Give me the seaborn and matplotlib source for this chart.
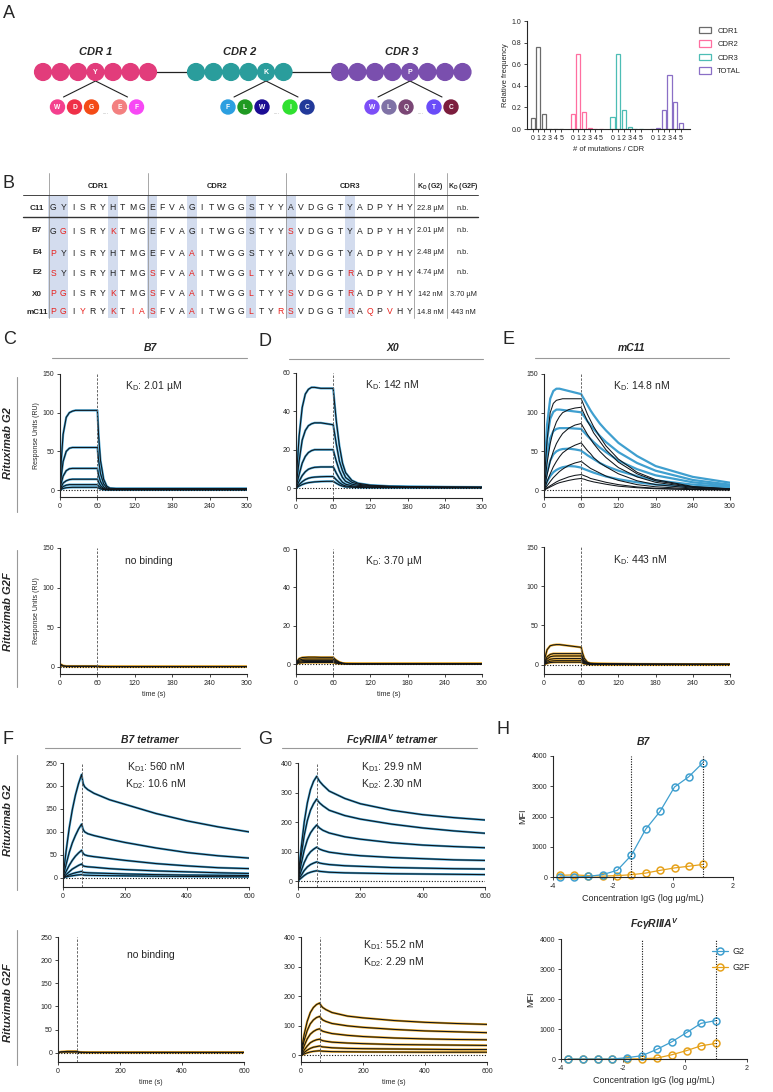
import matplotlib
matplotlib.use("Agg")
import matplotlib.pyplot as plt
from matplotlib.patches import Circle, Rectangle, Patch
from matplotlib.lines import Line2D
import pandas as pd
import seaborn as sns

sns.set_theme(style="ticks")
plt.rcParams['font.family'] = ['Liberation Sans', 'DejaVu Sans']
plt.rcParams['mathtext.fontset'] = 'custom'
plt.rcParams['mathtext.rm'] = 'Liberation Sans'
plt.rcParams['mathtext.it'] = 'Liberation Sans:italic'
plt.rcParams['mathtext.bf'] = 'Liberation Sans:bold'
plt.rcParams['axes.linewidth'] = 0.8
plt.rcParams['axes.unicode_minus'] = False

# ---------------- data ----------------
# panel A: mutation histogram
MUT_COUNTS = [0, 1, 2, 3, 4, 5]
HIST_NAMES = ["CDR1", "CDR2", "CDR3", "TOTAL"]
HIST_CDR1 = [0.10, 0.76, 0.14, 0, 0, 0]
HIST_CDR2 = [0.14, 0.69, 0.16, 0.01, 0, 0]
HIST_CDR3 = [0.11, 0.69, 0.18, 0.015, 0, 0]
HIST_TOTAL = [0, 0.005, 0.18, 0.50, 0.25, 0.06]
HIST_COLORS = ["#6b6b6b", "#ff6ea0", "#4dbdb5", "#8a6fc6"]

# panel A: CDR diagram
CDR_LABELS = ["CDR 1", "CDR 2", "CDR 3"]
CDR_SIZES = [7, 6, 8]
CDR_MUT_IDX = [3, 4, 4]
CDR_MUT_AA = ["Y", "K", "P"]
CDR_COLORS = ["#e23c7b", "#2a9d9c", "#7a4fae"]
SUB_AA = [["W", "D", "G", "E", "F"], ["F", "L", "W", "I", "C"], ["W", "L", "Q", "T", "C"]]
SUB_COLORS = [["#f43f8e", "#ef3048", "#f44b16", "#f38080", "#f748f5"],
              ["#2c9fe0", "#1f9a22", "#1b0c94", "#2fe02f", "#22399a"],
              ["#7c4ef7", "#7f72a6", "#7a4675", "#6a4cf8", "#7b1d3d"]]

# panel B: sequence table
ROW_NAMES = ["C11", "B7", "E4", "E2", "X0", "mC11"]
SEQS = ["GYISRYHTMG" "EFVAGITWGGSTYY" "AVDGGTYADPYHY",
        "GGISRYKTMG" "EFVAGITWGGSTYY" "SVDGGTYADPYHY",
        "PYISRYHTMG" "EFVAAITWGGSTYY" "AVDGGTYADPYHY",
        "SYISRYHTMG" "SFVAAITWGGLTYY" "AVDGGTRADPYHY",
        "PGISRYKTMG" "SFVAAITWGGLTYY" "SVDGGTRADPYHY",
        "PGIYRYKTIA" "SFVAAITWGGLTYR" "SVDGGTRAQPVHY"]
KD_G2 = ["22.8 µM", "2.01 µM", "2.48 µM", "4.74 µM", "142 nM", "14.8 nM"]
KD_G2F = ["n.b.", "n.b.", "n.b.", "n.b.", "3.70 µM", "443 nM"]
SHADED_COLS = [0, 1, 6, 10, 14, 20, 24, 30]

# panels C-E: SPR sensorgrams, 300 s
T300 = [0, 2, 5, 10, 15, 20, 25, 30, 40, 50, 60, 62, 65, 70, 75, 80, 90, 100, 120, 150, 180, 240, 300]
XT300 = [0, 60, 120, 180, 240, 300]
C_G2 = [
    [0, 38, 72, 94, 100, 102, 103, 103, 103, 103, 103, 70, 38, 14, 5, 2.5, 2, 2, 2, 2, 2, 2, 2],
    [0, 18, 37, 50, 54, 55, 55, 55, 55, 55, 55, 38, 21, 8, 3, 1.5, 1.5, 1.5, 1.5, 1.5, 1.5, 1.5, 1.5],
    [0, 9, 18, 25, 27.5, 28, 28, 28, 28, 28, 28, 19, 11, 4, 1.5, 1, 1, 1, 1, 1, 1, 1, 1],
    [0, 4, 9, 12, 13.5, 14, 14, 14, 14, 14, 14, 10, 5.5, 2, 1, 0.8, 0.8, 0.8, 0.8, 0.8, 0.8, 0.8, 0.8],
    [0, 2, 4.5, 6.3, 7, 7, 7, 7, 7, 7, 7, 5, 3, 1.2, 0.6, 0.5, 0.5, 0.5, 0.5, 0.5, 0.5, 0.5, 0.5],
    [0, 1, 2, 3, 3.3, 3.5, 3.5, 3.5, 3.5, 3.5, 3.5, 2.5, 1.5, 0.6, 0.3, 0.2, 0.2, 0.2, 0.2, 0.2, 0.2, 0.2, 0.2],
]
D_G2 = [
    [0, 12, 27, 42, 49, 51.5, 52.5, 52.5, 52, 52, 52, 45, 35, 22, 13, 8, 4, 2.5, 1.5, 1, 0.8, 0.6, 0.5],
    [0, 6, 14, 25, 30, 32.5, 33.5, 34, 34, 33.5, 33, 29, 23, 14, 9, 5.5, 3, 2, 1.2, 0.8, 0.6, 0.5, 0.4],
    [0, 3, 7, 13, 16.5, 18.5, 19.5, 20, 20, 20, 20, 17.5, 14, 9, 5.5, 3.5, 2, 1.4, 1, 0.7, 0.5, 0.4, 0.3],
    [0, 1.5, 3.5, 6.5, 8.5, 9.8, 10.4, 10.8, 11, 11, 11, 9.8, 7.8, 5, 3, 2, 1.2, 0.8, 0.6, 0.5, 0.4, 0.3, 0.3],
    [0, 0.8, 1.8, 3.3, 4.4, 5.1, 5.5, 5.7, 5.9, 6, 6, 5.3, 4.3, 2.8, 1.7, 1.1, 0.7, 0.5, 0.4, 0.3, 0.3, 0.2, 0.2],
    [0, 0.4, 1, 1.8, 2.4, 2.8, 3, 3.2, 3.4, 3.5, 3.5, 3.1, 2.5, 1.6, 1, 0.6, 0.4, 0.3, 0.2, 0.2, 0.2, 0.1, 0.1],
]
E_G2 = [
    [0, 40, 85, 118, 128, 131, 131, 130, 128, 126, 124, 121, 117, 110, 103, 97, 86, 77, 61, 44, 31, 17, 9.5],
    [0, 30, 65, 92, 101, 104, 104, 103.5, 102.5, 101.5, 100.5, 98, 95, 89, 84, 79, 70, 62, 49, 35, 25, 13, 7],
    [0, 20, 44, 67, 76, 79, 80, 80, 80, 79.5, 79, 77, 74.5, 70, 66, 62, 55, 49, 38, 27, 19, 10, 5.5],
    [0, 10, 23, 38, 46, 50, 52, 53, 53.5, 52.5, 51, 49.5, 48, 45, 42.5, 40, 35, 31, 25, 18, 12.5, 7, 4],
    [0, 5, 11, 18, 23, 26, 28, 29.5, 31, 30.5, 29, 28, 27, 25.5, 24, 22.5, 20, 17.5, 14, 10, 7, 4, 2.5],
]
E_G2_FIT = [
    [0, 30, 65, 100, 112, 116, 117, 118, 118, 118, 118, 114, 108, 98, 90, 82, 69, 57, 40, 23, 13.5, 4.6, 1.6],
    [0, 15, 35, 60, 77, 88, 95, 100, 104, 106, 107, 103, 98, 89, 82, 74, 63, 52, 36, 21, 12, 4, 1.4],
    [0, 8, 20, 37, 50, 60, 67, 73, 80, 84, 86, 83, 79, 72, 66, 60, 50, 42, 29, 17, 10, 3.3, 1.2],
    [0, 4, 11, 21, 30, 37, 43, 48, 54, 58, 61, 59, 56, 51, 47, 42, 35, 30, 21, 12, 7, 2.4, 0.8],
    [0, 2, 5.5, 11, 16, 20, 24, 27, 32, 35, 37, 36, 34, 31, 28, 26, 22, 18, 12.5, 7, 4.2, 1.5, 0.5],
    [0, 1, 3, 5.5, 8, 10.5, 12.5, 14, 17, 19, 20, 19.5, 18.5, 17, 15, 14, 12, 10, 7, 4, 2.3, 0.8, 0.3],
    [0, 0.8, 2, 4, 6, 8, 9.5, 10.5, 12.5, 14, 15, 14.5, 14, 12.5, 11.5, 10.5, 9, 7.5, 5, 3, 1.7, 0.6, 0.2],
]
C_G2F = [
    [0, 3, 1.5, 1, 1, 1, 1, 1, 1, 1, 1, 0.8, 0.6, 0.5, 0.5, 0.5, 0.5, 0.5, 0.5, 0.5, 0.5, 0.5, 0.5],
    [0, 1.5, 1, 0.5, 0.5, 0.5, 0.5, 0.5, 0.5, 0.5, 0.5, 0.3, 0.2, 0.2, 0.2, 0.2, 0.2, 0.2, 0.2, 0.2, 0.2, 0.2, 0.2],
]
D_G2F = [
    [0, 1.5, 2.8, 3.4, 3.5, 3.6, 3.6, 3.6, 3.5, 3.5, 3.5, 2.8, 2, 1, 0.5, 0.3, 0.2, 0.1, 0.1, 0.1, 0.1, 0.1, 0.1],
    [0, 1.1, 2, 2.5, 2.6, 2.6, 2.6, 2.6, 2.6, 2.6, 2.6, 2.1, 1.5, 0.8, 0.4, 0.2, 0.1, 0.1, 0.1, 0.1, 0.1, 0.1, 0.1],
    [0, 0.8, 1.4, 1.8, 1.9, 1.9, 1.9, 1.9, 1.9, 1.9, 1.9, 1.5, 1.1, 0.6, 0.3, 0.2, 0.1, 0.1, 0.1, 0.1, 0.1, 0.1, 0.1],
    [0, 0.5, 0.9, 1.2, 1.3, 1.3, 1.3, 1.3, 1.3, 1.3, 1.3, 1, 0.7, 0.4, 0.2, 0.1, 0.1, 0.1, 0.1, 0.1, 0.1, 0.1, 0.1],
    [0, 0.3, 0.5, 0.7, 0.8, 0.8, 0.8, 0.8, 0.8, 0.8, 0.8, 0.6, 0.4, 0.2, 0.1, 0.1, 0.1, 0.1, 0.1, 0.1, 0.1, 0.1, 0.1],
]
E_G2F = [
    [0, 10, 19, 24, 25, 25.5, 25.5, 25, 24, 23, 22, 15, 8, 3, 1.8, 1.5, 1.3, 1.2, 1, 0.8, 0.7, 0.6, 0.5],
    [0, 5, 10, 13, 14, 14, 14, 14, 14, 14, 14, 9.5, 5, 2, 1.2, 1, 0.9, 0.8, 0.7, 0.6, 0.5, 0.4, 0.4],
    [0, 3.5, 7, 10, 10.8, 11, 11, 11, 11, 11, 11, 7.5, 4, 1.6, 1, 0.8, 0.7, 0.6, 0.5, 0.5, 0.4, 0.3, 0.3],
    [0, 2.2, 4.5, 6.8, 7.5, 7.7, 7.7, 7.7, 7.7, 7.7, 7.7, 5.2, 2.8, 1.1, 0.7, 0.6, 0.5, 0.4, 0.4, 0.3, 0.3, 0.2, 0.2],
    [0, 1.3, 2.8, 4.3, 4.8, 5, 5, 5, 5, 5, 5, 3.4, 1.8, 0.8, 0.5, 0.4, 0.3, 0.3, 0.2, 0.2, 0.2, 0.2, 0.2],
    [0, 0.7, 1.6, 2.6, 2.9, 3, 3, 3, 3, 3, 3, 2, 1.1, 0.5, 0.3, 0.2, 0.2, 0.2, 0.1, 0.1, 0.1, 0.1, 0.1],
]

# panels F-G: tetramer sensorgrams, 600 s
T600 = [0, 5, 10, 20, 30, 40, 50, 60, 65, 70, 80, 100, 150, 200, 300, 400, 500, 600]
XT600 = [0, 200, 400, 600]
F_G2 = [
    [0, 30, 58, 108, 148, 180, 205, 225, 205, 198, 192, 184, 170, 160, 140, 124, 111, 100],
    [0, 15, 29, 55, 76, 92, 106, 117, 105, 100, 96, 92, 84, 77, 65, 55, 48, 43],
    [0, 7, 14, 27, 38, 47, 54, 60, 53, 50, 48, 46, 42, 38, 31, 26, 22, 20],
    [0, 3.5, 7, 13, 19, 23, 27, 30, 26, 25, 24, 23, 20, 18, 15, 13, 11, 9.5],
    [0, 1.7, 3.3, 6.5, 9, 11, 12.5, 14, 12, 11.5, 11, 10.5, 9.5, 8.5, 7, 6, 5.5, 5],
    [0, 1, 2, 3.5, 4.5, 5.5, 6.3, 7, 6, 5.7, 5.5, 5.2, 4.7, 4.3, 3.5, 3, 2.5, 2.2],
]
F_G2F = [
    [0, 1.5, 2, 2.5, 3, 3, 3, 3, 2, 1.5, 1.2, 1, 1, 1, 1, 1, 1, 1],
    [0, 1, 1.5, 1.5, 1.5, 1.5, 1.5, 1.5, 1, 0.8, 0.6, 0.5, 0.5, 0.5, 0.5, 0.5, 0.5, 0.5],
]
G_G2 = [
    [0, 60, 110, 200, 265, 310, 338, 355, 345, 337, 325, 305, 280, 262, 240, 225, 215, 207],
    [0, 45, 85, 155, 205, 240, 262, 278, 270, 264, 255, 240, 222, 210, 193, 180, 170, 162],
    [0, 30, 57, 105, 140, 163, 178, 190, 184, 179, 172, 163, 150, 142, 130, 122, 117, 113],
    [0, 18, 34, 63, 85, 99, 108, 115, 111, 108, 104, 98, 91, 86, 80, 76, 72, 70],
    [0, 10, 19, 36, 48, 56, 61, 65, 63, 61, 59, 56, 52, 50, 46, 44, 42, 41],
    [0, 5.5, 10, 19, 26, 30, 33, 35, 34, 33, 32, 30, 28, 27, 25, 24, 23, 22],
]
G_G2F = [
    [0, 40, 70, 115, 145, 162, 172, 177, 168, 162, 155, 145, 133, 127, 118, 112, 108, 105],
    [0, 28, 50, 84, 107, 120, 128, 132, 125, 120, 115, 108, 100, 95, 88, 83, 80, 77],
    [0, 17, 32, 56, 72, 81, 87, 90, 85, 82, 79, 74, 68, 64, 59, 56, 54, 53],
    [0, 9, 18, 32, 43, 49, 53, 55, 52, 50, 48, 45, 42, 40, 37, 36, 35, 34],
    [0, 5, 10, 18, 24, 28, 30, 32, 30, 29, 28, 26, 24, 23, 22, 21, 20, 20],
    [0, 2.5, 5, 9, 12, 14, 15, 16, 15, 14.5, 14, 13, 12.5, 12, 11.5, 11, 11, 11],
]

# panel H: cell binding (MFI)
LOG_CONC = [-3.77, -3.29, -2.82, -2.34, -1.86, -1.39, -0.91, -0.43, 0.05, 0.52, 1.0]
H_B7_G2 = [0, 0, 20, 80, 220, 715, 1580, 2170, 2975, 3310, 3780]
H_B7_G2F = [55, 70, 45, 30, 45, 75, 130, 220, 300, 355, 415]
H_FC_G2 = [0, 0, 0, 0, 45, 110, 320, 570, 880, 1190, 1280]
H_FC_G2F = [0, 0, 0, 0, 0, 10, 30, 140, 280, 440, 520]
H_VLINES = [-1.39, 1.0]

BLUE = "#3f9fcf"
ORANGE = "#e6a11a"
FIT = "#10151a"

# ---------------- figure ----------------
W, H = 773, 1092
fig = plt.figure(figsize=(W / 100, H / 100), dpi=100)


def box(l, t, r, b):
    return [l / W, 1 - b / H, (r - l) / W, (b - t) / H]


ov = fig.add_axes([0, 0, 1, 1])
ov.set_xlim(0, W)
ov.set_ylim(H, 0)
ov.axis("off")

# panel letters
for letter, (x, y) in zip("ABCDEFGH", [(3, 14), (3, 184), (3, 340), (259, 341), (503, 340),
                                       (3, 740), (258, 740), (496, 730)]):
    ov.text(x, y, letter, fontsize=13, va="center", ha="left")

# ---- A: CDR diagram ----
starts = [43, 196, 340]
step = 17.5
sub_off = [-38, -21, -4, 24, 41]
ov.plot([43, 462.5], [72, 72], color="#222", lw=0.9, zorder=1)
for k in range(3):
    xs = [starts[k] + i * step for i in range(CDR_SIZES[k])]
    for i, x in enumerate(xs):
        ov.add_patch(Circle((x, 72), 8.4, color=CDR_COLORS[k], zorder=2))
    xm = xs[CDR_MUT_IDX[k]]
    ov.text(xm, 72.5, CDR_MUT_AA[k], color="white", fontsize=5, fontweight="bold",
            ha="center", va="center", zorder=3)
    ov.text((xs[0] + xs[-1]) / 2, 52, CDR_LABELS[k], fontsize=8, fontweight="bold",
            style="italic", ha="center", va="center")
    ov.plot([xm - 32, xm, xm + 32], [97, 81, 97], color="#222", lw=0.8, zorder=1)
    for off, aa, c in zip(sub_off, SUB_AA[k], SUB_COLORS[k]):
        ov.add_patch(Circle((xm + off, 107), 7, color=c, zorder=2))
        ov.text(xm + off, 107.5, aa, color="white", fontsize=4.8, fontweight="bold",
                ha="center", va="center", zorder=3)
    ov.text(xm + 10, 112, "....", fontsize=4, color="#999", ha="center", va="center")

# ---- A: histogram ----
axh = fig.add_axes(box(527, 21, 690, 129))
hist_vals = [HIST_CDR1, HIST_CDR2, HIST_CDR3, HIST_TOTAL]
pos_all, lab_all = [], []
for g, (vals, c) in enumerate(zip(hist_vals, HIST_COLORS)):
    pos = [g * 7 + m for m in MUT_COUNTS]
    axh.bar(pos, vals, width=0.72, facecolor="none", edgecolor=c, lw=0.9)
    pos_all += pos
    lab_all += [str(m) for m in MUT_COUNTS]
axh.set_xlim(-1, 27.6)
axh.set_ylim(0, 1)
axh.set_xticks(pos_all)
axh.set_xticklabels(lab_all)
axh.set_yticks([0, 0.2, 0.4, 0.6, 0.8, 1.0])
axh.set_yticklabels(["0.0", "0.2", "0.4", "0.6", "0.8", "1.0"])
axh.tick_params(labelsize=5, length=2.5, width=0.6, pad=1.5)
axh.set_ylabel("Relative frequency", fontsize=5.5, labelpad=2)
axh.set_xlabel("# of mutations / CDR", fontsize=5.5, labelpad=3)
sns.despine(ax=axh)
handles = [Patch(facecolor="none", edgecolor=c, lw=0.9) for c in HIST_COLORS]
fig.legend(handles, HIST_NAMES, loc="upper left", bbox_to_anchor=(692 / W, 1 - 20 / H),
           fontsize=5.5, frameon=False, handlelength=1.6, handleheight=0.9,
           labelspacing=0.75, handletextpad=0.8)

# ---- B: table ----
col_x0, col_dx = 53.3, 9.89
row_y = [208, 231, 253, 273, 294, 312]
for c in SHADED_COLS:
    ov.add_patch(Rectangle((col_x0 + c * col_dx - col_dx / 2, 195), col_dx, 123,
                           color="#d3dcee", lw=0, zorder=0))
for x in [49, 147.5, 286, 414, 447]:
    ov.plot([x, x], [173, 318], color="#999", lw=0.6, zorder=1)
ov.plot([23, 478], [195, 195], color="#444", lw=0.7)
ov.plot([23, 478], [217, 217], color="#333", lw=1.0)
for name, x in zip(["CDR1", "CDR2", "CDR3"], [98, 217, 350]):
    ov.text(x, 187, name, fontsize=5.5, fontweight="bold", ha="center", va="center")
ov.text(430.5, 187, r"K$_\mathregular{D}$ (G2)", fontsize=5, fontweight="bold", ha="center", va="center")
ov.text(463, 187, r"K$_\mathregular{D}$ (G2F)", fontsize=5, fontweight="bold", ha="center", va="center")
for r, (name, seq, y) in enumerate(zip(ROW_NAMES, SEQS, row_y)):
    ov.text(37, y, name, fontsize=5.8, fontweight="bold", ha="center", va="center")
    for c, aa in enumerate(seq):
        red = aa != SEQS[0][c]
        ov.text(col_x0 + c * col_dx, y, aa, fontsize=6.2, ha="center", va="center",
                color="#e8211d" if red else "#222")
    ov.text(430.5, y, KD_G2[r], fontsize=5.3, ha="center", va="center")
    ov.text(463, y, KD_G2F[r], fontsize=5.3, ha="center", va="center")

# ---- section titles and row labels ----
for txt, x, y, l0, l1, ly in [("B7", 150, 348, 52, 247, 358), ("X0", 393, 348, 289, 483, 359),
                              ("mC11", 632, 348, 535, 729, 358),
                              ("B7 tetramer", 150, 740, 45, 240, 748),
                              (r"FcγRIIIA$^\mathregular{V}$ tetramer", 393, 740, 282, 477, 748)]:
    ov.text(x, y, txt, fontsize=7.5, fontweight="bold", style="italic", ha="center", va="center")
    ov.plot([l0, l1], [ly, ly], color="#999", lw=0.8)
for txt, yc, y0, y1 in [("Rituximab G2", 443, 377, 512), ("Rituximab G2F", 612, 550, 687),
                        ("Rituximab G2", 820, 755, 890), ("Rituximab G2F", 1003, 930, 1065)]:
    ov.text(8, yc, txt, fontsize=8, fontweight="bold", style="italic", rotation=90,
            ha="center", va="center")
    ov.plot([17, 17], [y0, y1], color="#999", lw=0.8)


def long_df(t, curves):
    rows = []
    for i, y in enumerate(curves):
        rows += [(i, tt, yy) for tt, yy in zip(t, y)]
    return pd.DataFrame(rows, columns=["curve", "t", "ru"])


def sensorgram(rect, t, data, fit, color, ylim, yticks, xticks, kd, kdpos, ha="left",
               ylabel=False, xlabel=False):
    ax = fig.add_axes(box(*rect))
    sns.lineplot(data=long_df(t, data), x="t", y="ru", units="curve", estimator=None,
                 color=color, lw=1.6, ax=ax, legend=False)
    sns.lineplot(data=long_df(t, fit), x="t", y="ru", units="curve", estimator=None,
                 color=FIT, lw=0.75, ax=ax, legend=False)
    ax.axvline(60, color="#666", ls=(0, (2.5, 1.5)), lw=0.7)
    ax.axhline(0, color="#111", ls=(0, (1, 1.5)), lw=0.8)
    ax.set_xlim(xticks[0], xticks[-1])
    ax.set_ylim(*ylim)
    ax.set_xticks(xticks)
    ax.set_yticks(yticks)
    ax.tick_params(labelsize=5, length=2.5, width=0.6, pad=1.5)
    ax.set_xlabel("time (s)" if xlabel else "", fontsize=5, labelpad=3)
    ax.set_ylabel("Response Units (RU)" if ylabel else "", fontsize=5, labelpad=2)
    sns.despine(ax=ax)
    ax.text(kdpos[0], kdpos[1], kd, transform=ax.transAxes, fontsize=7.5, ha=ha, va="center",
            linespacing=1.3)
    return ax


KD = r"K$_\mathregular{D}$: "
KD1 = r"K$_\mathregular{D1}$: "
KD2 = r"K$_\mathregular{D2}$: "
sensorgram((60, 374, 247, 497), T300, C_G2, C_G2, BLUE, (-9, 150), [0, 50, 100, 150], XT300,
           KD + "2.01 µM", (0.35, 0.9), ylabel=True)
sensorgram((296, 373, 482, 498), T300, D_G2, D_G2, BLUE, (-5.2, 60), [0, 20, 40, 60], XT300,
           KD + "142 nM", (0.37, 0.9))
sensorgram((544, 374, 730, 497), T300, E_G2, E_G2_FIT, BLUE, (-9, 150), [0, 50, 100, 150], XT300,
           KD + "14.8 nM", (0.37, 0.9))
sensorgram((60, 548, 247, 674), T300, C_G2F, C_G2F, ORANGE, (-9, 150), [0, 50, 100, 150], XT300,
           "no binding", (0.35, 0.9), ylabel=True, xlabel=True)
sensorgram((296, 549, 482, 674), T300, D_G2F, D_G2F, ORANGE, (-5.2, 60), [0, 20, 40, 60], XT300,
           KD + "3.70 µM", (0.37, 0.9), xlabel=True)
sensorgram((544, 547, 730, 674), T300, E_G2F, E_G2F, ORANGE, (-12, 150), [0, 50, 100, 150], XT300,
           KD + "443 nM", (0.37, 0.9))
sensorgram((63, 763, 249, 887), T600, F_G2, F_G2, BLUE, (-20, 250), [0, 50, 100, 150, 200, 250], XT600,
           KD1 + "560 nM\n" + KD2 + "10.6 nM", (0.5, 0.9), ha="center")
sensorgram((298, 763, 485, 887), T600, G_G2, G_G2, BLUE, (-20, 400), [0, 100, 200, 300, 400], XT600,
           KD1 + "29.9 nM\n" + KD2 + "2.30 nM", (0.5, 0.9), ha="center")
sensorgram((58, 937, 244, 1062), T600, F_G2F, F_G2F, ORANGE, (-20, 250), [0, 50, 100, 150, 200, 250], XT600,
           "no binding", (0.5, 0.86), ha="center", xlabel=True)
sensorgram((301, 937, 487, 1062), T600, G_G2F, G_G2F, ORANGE, (-22, 400), [0, 100, 200, 300, 400], XT600,
           KD1 + "55.2 nM\n" + KD2 + "2.29 nM", (0.5, 0.87), ha="center", xlabel=True)


# ---- H: dose response ----
def dose(rect, g2, g2f, title, legend=False):
    ax = fig.add_axes(box(*rect))
    for vals, c in [(g2f, ORANGE), (g2, BLUE)]:
        sns.lineplot(x=LOG_CONC, y=vals, color=c, lw=0.9, marker="o", markersize=5,
                     markerfacecolor="none", markeredgecolor=c, markeredgewidth=1.1,
                     ax=ax, clip_on=False)
    for v in H_VLINES:
        ax.axvline(v, color="#111", ls=(0, (1, 1.3)), lw=0.8)
    ax.set_xlim(-4, 2)
    ax.set_ylim(0, 4000)
    ax.set_xticks([-4, -2, 0, 2])
    ax.set_yticks([0, 1000, 2000, 3000, 4000])
    ax.tick_params(labelsize=5, length=2.5, width=0.6, pad=1.5)
    ax.set_xlabel("Concentration IgG (log µg/mL)", fontsize=6.5, labelpad=3)
    ax.set_ylabel("MFI", fontsize=6.5, labelpad=3)
    ax.set_title(title, fontsize=7.5, fontweight="bold", style="italic", pad=8)
    sns.despine(ax=ax)
    if legend:
        hs = [Line2D([0], [0], color=c, lw=0.9, marker="o", ms=5, mfc="none", mec=c, mew=1.1)
              for c in [BLUE, ORANGE]]
        ax.legend(hs, ["G2", "G2F"], loc="upper left", bbox_to_anchor=(704 / W, 1 - 939 / H),
                  bbox_transform=fig.transFigure, frameon=False, fontsize=6.5,
                  handlelength=1.8, labelspacing=0.8, handletextpad=0.5)


dose((553, 756, 733, 877), H_B7_G2, H_B7_G2F, "B7")
dose((561, 939, 747, 1059), H_FC_G2, H_FC_G2F, r"FcγRIIIA$^\mathregular{V}$", legend=True)

fig.savefig("out.png", dpi=100)
